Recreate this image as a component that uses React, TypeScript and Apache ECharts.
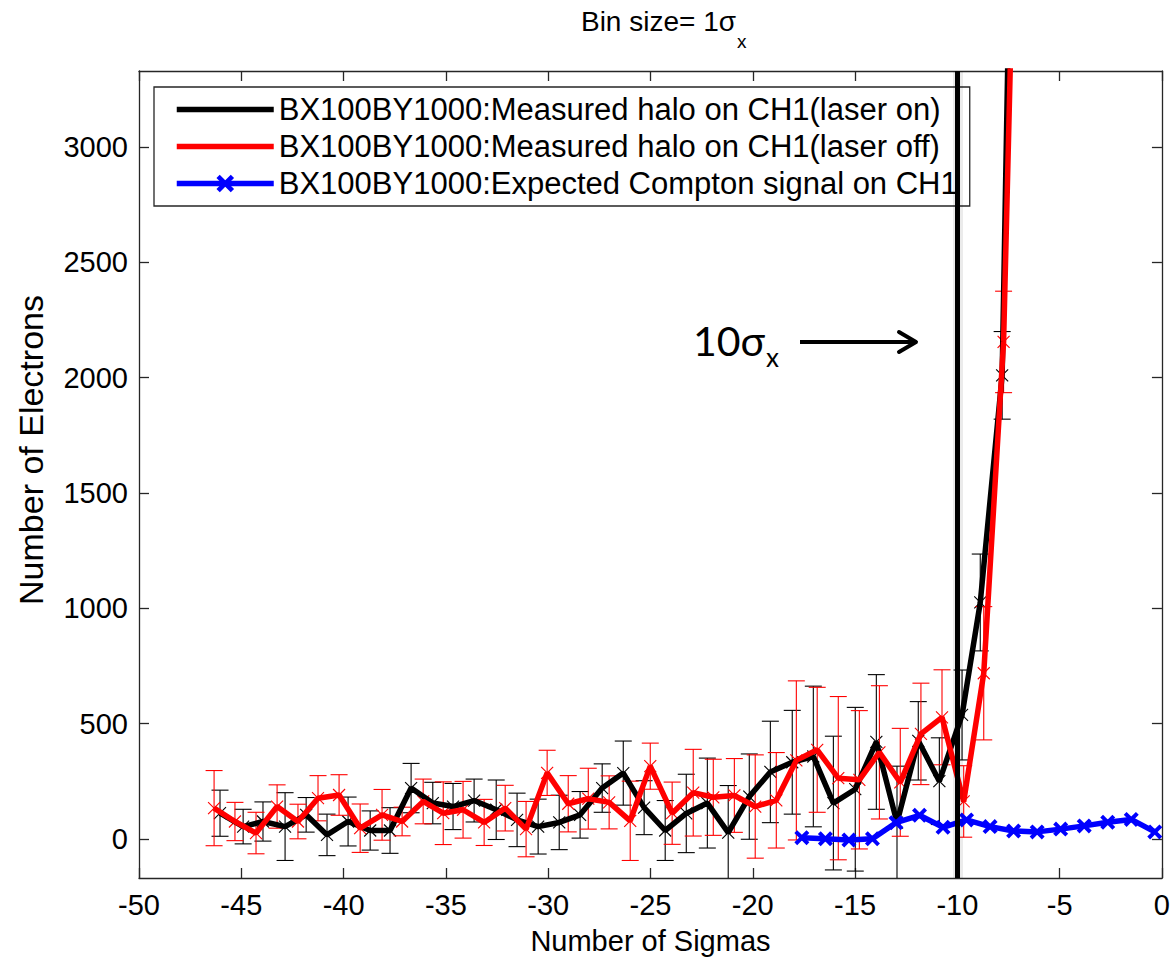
import React, { useEffect, useRef } from 'react';
import * as echarts from 'echarts';

const seriesNames = [
  'BX100BY1000:Measured halo on CH1(laser on)',
  'BX100BY1000:Measured halo on CH1(laser off)',
  'BX100BY1000:Expected Compton signal on CH1',
];

const blackX = [-46.04, -44.91, -43.94, -42.86, -41.83, -40.81, -39.78, -38.70, -37.73, -36.70, -35.64, -34.65, -33.62, -32.54, -31.52, -30.49, -29.46, -28.44, -27.36, -26.33, -25.31, -24.28, -23.25, -22.22, -21.20, -20.17, -19.14, -18.07, -17.04, -16.06, -14.99, -13.96, -12.95, -11.91, -10.88, -9.77, -8.88, -7.81, -6.80];
const blackY = [111, 53, 75, 53, 104, 17, 75, 36, 36, 220, 155, 140, 166, 126, 82, 53, 71, 104, 220, 285, 135, 36, 110, 155, 27, 183, 290, 332, 357, 155, 215, 420, 70, 425, 250, 537, 1025, 2010, 7000];
const blackErr = [100, 75, 85, 147, 75, 90, 106, 85, 99, 107, 90, 100, 93, 129, 116, 119, 118, 101, 105, 139, 117, 130, 170, 195, 204, 185, 220, 225, 305, 290, 355, 292, 245, 170, 188, 195, 210, 190, 300];

const redX = [-46.33, -45.31, -44.28, -43.25, -42.23, -41.25, -40.22, -39.19, -38.12, -37.14, -36.11, -35.13, -34.16, -33.13, -32.10, -31.08, -30.05, -29.02, -28.04, -27.02, -25.99, -25.01, -23.94, -22.91, -21.93, -20.90, -19.88, -18.85, -17.87, -16.85, -15.82, -14.79, -13.81, -12.79, -11.78, -10.75, -9.69, -8.71, -7.74, -6.74];
const redY = [133, 75, 25, 140, 75, 176, 190, 46, 104, 75, 162, 111, 126, 71, 133, 42, 286, 152, 174, 158, 78, 315, 111, 200, 180, 188, 140, 167, 340, 386, 263, 256, 375, 245, 455, 527, 162, 718, 2155, 5800];
const redErr = [163, 83, 90, 94, 75, 98, 88, 105, 110, 62, 97, 136, 123, 100, 99, 120, 98, 122, 132, 115, 172, 100, 135, 188, 165, 160, 224, 207, 345, 271, 354, 300, 289, 234, 220, 206, 155, 289, 220, 300];

const blueX = [-17.60, -16.45, -15.30, -14.15, -13.00, -11.85, -10.70, -9.55, -8.40, -7.25, -6.10, -4.95, -3.80, -2.65, -1.50, -0.35];
const blueY = [5, 0, -5, 0, 70, 102, 50, 82, 53, 34, 30, 42, 56, 72, 84, 30];

const markerLineX = -10;
const yTickValues = [0, 500, 1000, 1500, 2000, 2500, 3000];

const FONT = 'Liberation Sans, Arial, sans-serif';
const AXIS_COLOR = '#262626';

const boldX = 'path://M0,3L3,0L8,5L13,0L16,3L11,8L16,13L13,16L8,11L3,16L0,13L5,8Z';

function errSeries(xs: number[], ys: number[], es: number[], color: string) {
  return {
    type: 'custom',
    clip: true,
    silent: true,
    data: xs.map((x, i) => [x, ys[i], es[i]]),
    encode: { x: 0, y: 1 },
    renderItem: (params: any, api: any) => {
      const x = api.value(0) as number;
      const y = api.value(1) as number;
      const e = api.value(2) as number;
      const c = api.coord([x, y]);
      const t = api.coord([x, y + e]);
      const b = api.coord([x, y - e]);
      const hw = 8.5;
      const m = 6;
      const st = { stroke: color, lineWidth: 1.1, fill: 'none' };
      return {
        type: 'group',
        children: [
          { type: 'line', shape: { x1: c[0], y1: t[1], x2: c[0], y2: b[1] }, style: st },
          { type: 'line', shape: { x1: c[0] - hw, y1: t[1], x2: c[0] + hw, y2: t[1] }, style: st },
          { type: 'line', shape: { x1: c[0] - hw, y1: b[1], x2: c[0] + hw, y2: b[1] }, style: st },
          { type: 'line', shape: { x1: c[0] - m, y1: c[1] - m, x2: c[0] + m, y2: c[1] + m }, style: st },
          { type: 'line', shape: { x1: c[0] - m, y1: c[1] + m, x2: c[0] + m, y2: c[1] - m }, style: st },
        ],
      };
    },
  };
}

export default function App() {
  const ref = useRef<HTMLDivElement>(null);
  useEffect(() => {
    const chart = echarts.init(ref.current!, null, { renderer: 'svg' });
    const option: any = {
      animation: false,
      backgroundColor: '#fff',
      textStyle: { fontFamily: FONT },
      grid: { left: 139, right: 11, top: 71, bottom: 82, containLabel: false },
      legend: {
        orient: 'vertical',
        left: 154,
        top: 87,
        padding: [7, 12, 7, 20],
        itemGap: 6,
        itemWidth: 97,
        itemHeight: 22,
        backgroundColor: '#fff',
        borderColor: AXIS_COLOR,
        borderWidth: 1.3,
        borderRadius: 0,
        lineStyle: { width: 5.5 },
        textStyle: { fontSize: 31, fontFamily: FONT, color: '#000' },
        data: [
          { name: seriesNames[0], itemStyle: { opacity: 0 } },
          { name: seriesNames[1], itemStyle: { opacity: 0 } },
          { name: seriesNames[2] },
        ],
      },
      xAxis: [
        {
          type: 'value',
          min: -50,
          max: 0,
          interval: 5,
          position: 'bottom',
          name: 'Number of Sigmas',
          nameLocation: 'middle',
          nameGap: 48,
          nameTextStyle: { fontSize: 29, color: '#000', fontFamily: FONT },
          axisLine: { show: true, onZero: false, lineStyle: { color: AXIS_COLOR, width: 1.3 } },
          axisTick: { show: true, inside: true, length: 10, lineStyle: { color: AXIS_COLOR, width: 1.3 } },
          axisLabel: { fontSize: 29, color: '#000', margin: 12, fontFamily: FONT, formatter: (v: number) => String(v) },
          splitLine: { show: false },
        },
        {
          type: 'value',
          min: -50,
          max: 0,
          interval: 5,
          position: 'top',
          axisLine: { show: true, onZero: false, lineStyle: { color: AXIS_COLOR, width: 1.3 } },
          axisTick: { show: true, inside: true, length: 10, lineStyle: { color: AXIS_COLOR, width: 1.3 } },
          axisLabel: { show: false },
          splitLine: { show: false },
        },
      ],
      yAxis: [
        {
          type: 'value',
          min: -170,
          max: 3330,
          position: 'left',
          axisLine: { show: true, onZero: false, lineStyle: { color: AXIS_COLOR, width: 1.3 } },
          axisTick: { show: true, inside: true, length: 10, customValues: yTickValues, lineStyle: { color: AXIS_COLOR, width: 1.3 } },
          axisLabel: { fontSize: 29, color: '#000', margin: 11, fontFamily: FONT, customValues: yTickValues, formatter: (v: number) => String(v) },
          splitLine: { show: false },
        },
        {
          type: 'value',
          min: -170,
          max: 3330,
          position: 'right',
          axisLine: { show: true, onZero: false, lineStyle: { color: AXIS_COLOR, width: 1.3 } },
          axisTick: { show: true, inside: true, length: 10, customValues: yTickValues, lineStyle: { color: AXIS_COLOR, width: 1.3 } },
          axisLabel: { show: false },
          splitLine: { show: false },
        },
      ],
      series: [
        errSeries(blackX, blackY, blackErr, '#000000'),
        {
          name: seriesNames[0],
          type: 'line',
          data: blackX.map((x, i) => [x, blackY[i]]),
          symbol: 'none',
          clip: true,
          lineStyle: { color: '#000000', width: 5.5 },
          itemStyle: { color: '#000000' },
          silent: true,
        },
        errSeries(redX, redY, redErr, '#ff0000'),
        {
          name: seriesNames[1],
          type: 'line',
          data: redX.map((x, i) => [x, redY[i]]),
          symbol: 'none',
          clip: true,
          lineStyle: { color: '#ff0000', width: 5.5 },
          itemStyle: { color: '#ff0000' },
          silent: true,
        },
        {
          name: seriesNames[2],
          type: 'line',
          data: blueX.map((x, i) => [x, blueY[i]]),
          symbol: boldX,
          symbolSize: 15,
          showSymbol: true,
          clip: true,
          lineStyle: { color: '#0000ff', width: 5.5 },
          itemStyle: { color: '#0000ff' },
          silent: true,
          markLine: {
            silent: true,
            symbol: ['none', 'none'],
            label: { show: false },
            emphasis: { disabled: true },
            data: [
              { xAxis: markerLineX, lineStyle: { color: 'rgba(0,0,0,0.08)', width: 10, type: 'solid' } },
              { xAxis: markerLineX, lineStyle: { color: '#000', width: 5, type: 'solid' } },
            ],
          },
        },
      ],
      graphic: [
        {
          type: 'text',
          x: 736,
          y: 21,
          style: { text: 'Bin size= 1σ', font: `28px ${FONT}`, fill: '#000', textAlign: 'right', textVerticalAlign: 'middle' },
        },
        {
          type: 'text',
          x: 737,
          y: 41,
          style: { text: 'x', font: `19px ${FONT}`, fill: '#000', textAlign: 'left', textVerticalAlign: 'middle' },
        },
        {
          type: 'text',
          x: 31,
          y: 450,
          rotation: Math.PI / 2,
          style: { text: 'Number of Electrons', font: `34px ${FONT}`, fill: '#000', textAlign: 'center', textVerticalAlign: 'middle' },
        },
        {
          type: 'text',
          x: 765,
          y: 340,
          style: { text: '10σ', font: `41px Lato, ${FONT}`, fill: '#000', textAlign: 'right', textVerticalAlign: 'middle' },
        },
        {
          type: 'text',
          x: 766,
          y: 357,
          style: { text: 'x', font: `26px Lato, ${FONT}`, fill: '#000', textAlign: 'left', textVerticalAlign: 'middle' },
        },
        {
          type: 'rect',
          shape: { x: 800, y: 340, width: 114, height: 4 },
          style: { fill: '#000' },
        },
        {
          type: 'polyline',
          shape: { points: [[899, 332], [916, 342], [899, 352]] },
          style: { stroke: '#000', lineWidth: 4, fill: 'none', lineCap: 'round', lineJoin: 'round' },
        },
      ],
    };
    chart.setOption(option);
    return () => chart.dispose();
  }, []);
  return (
    <div
      ref={ref}
      style={{ position: 'fixed', left: 0, top: 0, width: 1173, height: 960, background: '#fff' }}
    />
  );
}
